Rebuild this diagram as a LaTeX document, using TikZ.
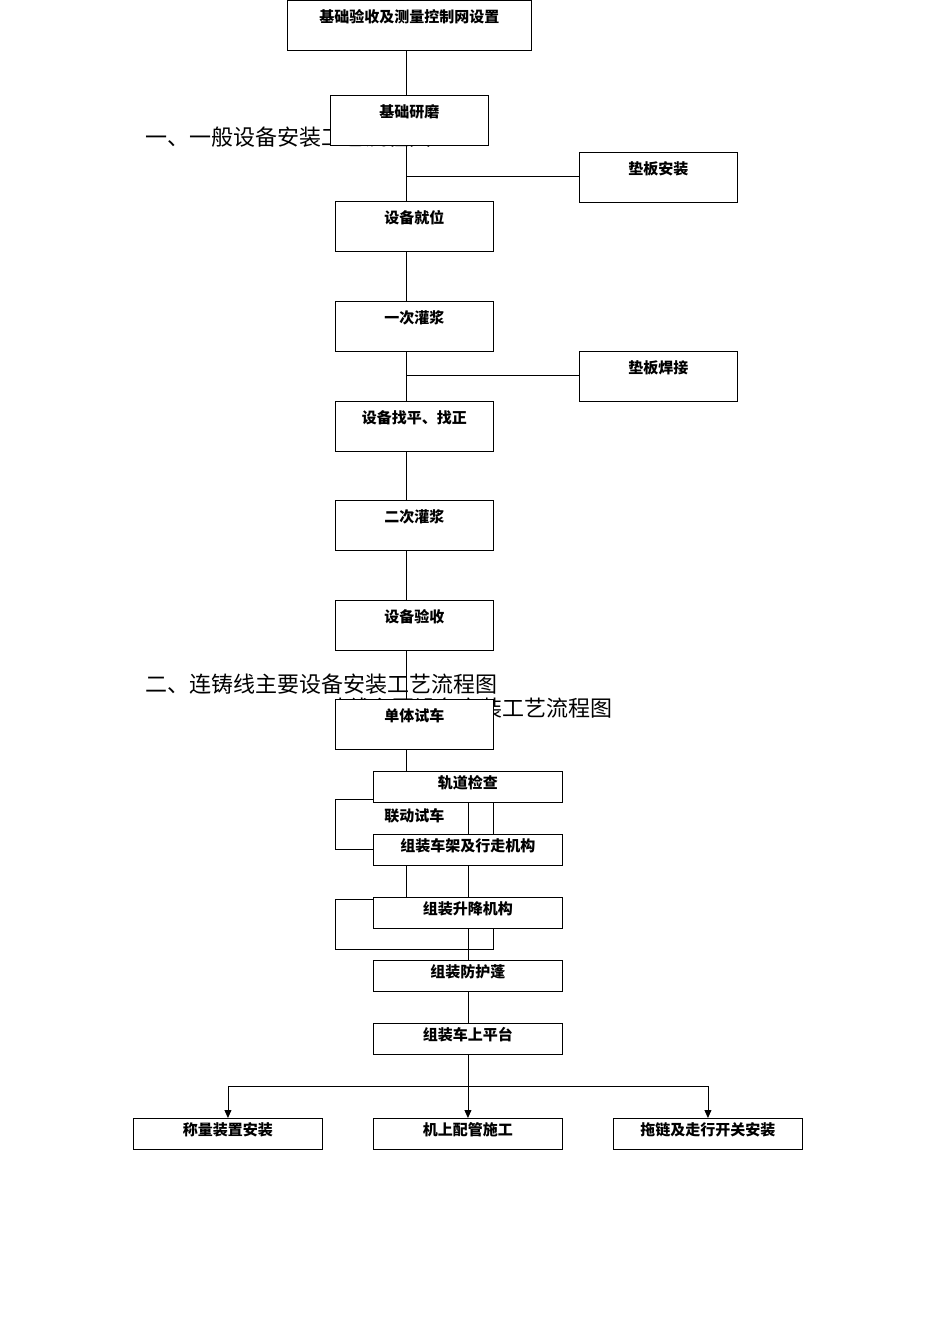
\documentclass[tikz,border=0pt]{standalone}
\usepackage{fontspec}
\setmainfont{Noto Sans CJK SC}
\usetikzlibrary{arrows.meta}

\tikzset{
  flowbox/.style={draw, fill=white, anchor=north west, inner sep=0pt, line width=0.9pt,
    font=\fontsize{15}{15}\selectfont\bfseries, minimum width=158pt, minimum height=50pt,
    text height=22pt, text depth=28pt},
  wide/.style={flowbox, minimum width=189pt, minimum height=31pt, text height=17pt, text depth=14pt},
  heading/.style={anchor=west, inner sep=0pt, font=\fontsize{22}{22}\selectfont},
  link/.style={line width=0.9pt},
}

\begin{document}
\begin{tikzpicture}[x=1pt,y=-1pt]
  \useasboundingbox (0,0) rectangle (950,1344);

  % headings
  \node[heading] (h1) at (145,137) {一、一般设备安装工艺流程图};
  \begin{scope}
    \clip (335,690) rectangle (700,730);
    \node[heading] (h2b) at (260,708) {二、连铸线主要设备安装工艺流程图};
  \end{scope}
  \node[heading] (h2) at (145,684) {二、连铸线主要设备安装工艺流程图};

  % general equipment chain
  \coordinate (top) at (406,50);
  \coordinate (bot) at (406,899);
  \coordinate (s1) at (406,176);
  \coordinate (s2) at (406,375);
  \draw[link] (top) -- (bot);

  \node[flowbox, minimum width=244pt] (base) at (287,0) {基础验收及测量控制网设置};
  \node[flowbox] (grind) at (330,95) {基础研磨};
  \node[flowbox] (pad) at (579,152) {垫板安装};
  \node[flowbox] (place) at (335,201) {设备就位};
  \node[flowbox] (grout1) at (335,301) {一次灌浆};
  \node[flowbox] (weld) at (579,351) {垫板焊接};
  \node[flowbox] (level) at (335,401) {设备找平、找正};
  \node[flowbox] (grout2) at (335,500) {二次灌浆};
  \node[flowbox] (check) at (335,600) {设备验收};
  \node[flowbox] (single) at (335,699) {单体试车};
  \node[flowbox] (joint) at (335,799) {联动试车};
  \node[flowbox] (blank) at (335,899) {};
  \draw[link] (s1) -- (s1 -| pad.west);
  \draw[link] (s2) -- (s2 -| weld.west);

  % casting line chain
  \node[wide] (rail) at (373,771) {轨道检查};
  \node[wide] (frame) at (373,834) {组装车架及行走机构};
  \node[wide] (lift) at (373,897) {组装升降机构};
  \node[wide] (hood) at (373,960) {组装防护蓬};
  \node[wide] (deck) at (373,1023) {组装车上平台};
  \node[wide] (weigh) at (133,1118) {称量装置安装};
  \node[wide] (pipe) at (373,1118) {机上配管施工};
  \node[wide] (drag) at (613,1118) {拖链及走行开关安装};

  \draw[link] (rail) -- (frame);
  \draw[link] (frame) -- (lift);
  \draw[link] (lift) -- (hood);
  \draw[link] (hood) -- (deck);
  \coordinate (fork) at (465,1086);
  \draw[link, -{Triangle[length=8pt,width=7pt]}] (deck) -- (pipe);
  \draw[link, -{Triangle[length=8pt,width=7pt]}] (fork) -| (weigh.north);
  \draw[link, -{Triangle[length=8pt,width=7pt]}] (fork) -| (drag.north);
\end{tikzpicture}
\end{document}
